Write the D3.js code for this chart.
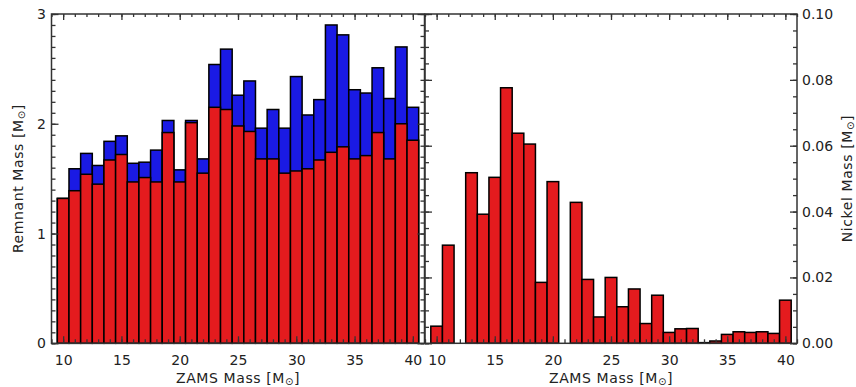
<!DOCTYPE html>
<html>
<head>
<meta charset="utf-8">
<script src="https://cdn.jsdelivr.net/npm/d3@7"></script>
<style>
  html, body { margin: 0; padding: 0; background: #fff; }
  svg { display: block; }
  text { font-family: "DejaVu Sans", sans-serif; fill: #222; }
</style>
</head>
<body>
<svg id="chart" width="856" height="387"></svg>
<script>
// ZAMS masses of the progenitor models (one bin per solar mass)
const zamsMass = [10, 11, 12, 13, 14, 15, 16, 17, 18, 19, 20, 21, 22, 23, 24, 25,
                  26, 27, 28, 29, 30, 31, 32, 33, 34, 35, 36, 37, 38, 39, 40];

// Final remnant mass including fallback [Msun] (blue)
const remnantFinal = [1.32, 1.59, 1.73, 1.62, 1.84, 1.89, 1.64, 1.65, 1.76, 2.03, 1.58,
                      2.03, 1.68, 2.54, 2.68, 2.26, 2.39, 1.96, 2.13, 1.96, 2.43, 2.08,
                      2.22, 2.90, 2.81, 2.31, 2.28, 2.51, 2.23, 2.70, 2.15];

// Remnant mass before fallback [Msun] (red)
const remnantInitial = [1.32, 1.39, 1.54, 1.45, 1.67, 1.72, 1.47, 1.51, 1.47, 1.92, 1.47,
                        2.01, 1.55, 2.15, 2.13, 1.98, 1.93, 1.68, 1.68, 1.55, 1.57, 1.59,
                        1.67, 1.74, 1.79, 1.68, 1.71, 1.92, 1.68, 2.00, 1.85];

// Ejected 56Ni mass [Msun]
const nickelMass = [0.0052, 0.0298, 0.0000, 0.0518, 0.0392, 0.0504, 0.0776, 0.0638, 0.0605,
                    0.0185, 0.0491, 0.0000, 0.0428, 0.0194, 0.0080, 0.0200, 0.0111, 0.0165,
                    0.0060, 0.0146, 0.0033, 0.0044, 0.0045, 0.0002, 0.0007, 0.0027, 0.0035,
                    0.0033, 0.0035, 0.0030, 0.0131];

const xTicks = [10, 15, 20, 25, 30, 35, 40];
const remnantTicks = [0, 1, 2, 3];
const nickelTicks = [0.00, 0.02, 0.04, 0.06, 0.08, 0.10];

const RED = "#e41b1e";
const BLUE = "#1a1ae4";
const AXIS = "#333";

const svg = d3.select("#chart");
const plotTop = 14, plotBottom = 343.3;

const xLeft = d3.scaleLinear().domain([9, 41]).range([51.5, 424.5]);
const xRight = d3.scaleLinear().domain([9, 41]).range([425, 797]);
const yRem = d3.scaleLinear().domain([0, 3]).range([plotBottom, plotTop]);
const yNi = d3.scaleLinear().domain([0, 0.10]).range([plotBottom, plotTop]);

const minorX = d3.range(9, 42, 1);
const minorRem = d3.range(0, 3.0001, 0.1);
const minorNi = d3.range(0, 0.10001, 0.005);

function bars(g, x, y, values, color) {
  g.selectAll(null)
    .data(zamsMass.map((m, i) => ({ m, v: values[i] })))
    .join("rect")
    .attr("x", d => x(d.m - 0.5))
    .attr("width", d => x(d.m + 0.5) - x(d.m - 0.5))
    .attr("y", d => y(d.v))
    .attr("height", d => y(0) - y(d.v))
    .attr("fill", color)
    .attr("stroke", "#000")
    .attr("stroke-width", 1.5);
}

function styleAxis(sel) {
  sel.select(".domain").remove();
  sel.selectAll(".tick line").attr("stroke", AXIS).attr("stroke-width", 1.3);
  sel.selectAll(".tick text").style("font-size", "14px").attr("fill", "#222");
}

function frame(x, y, majorY, minorY, yLabelSide, yFormat) {
  const g = svg.append("g");
  const [x0, x1] = x.range();
  const [y0, y1] = y.range();

  // bottom axis: labelled major ticks, inward minor ticks
  g.append("g").attr("transform", `translate(0,${y0})`)
    .call(d3.axisBottom(x).tickValues(minorX).tickSize(-4).tickSizeOuter(0).tickFormat(""))
    .call(styleAxis);
  g.append("g").attr("transform", `translate(0,${y0})`)
    .call(d3.axisBottom(x).tickValues(xTicks).tickSize(-7).tickSizeOuter(0).tickPadding(12).tickFormat(d3.format("d")))
    .call(styleAxis);

  // top axis
  g.append("g").attr("transform", `translate(0,${y1})`)
    .call(d3.axisTop(x).tickValues(minorX).tickSize(-3).tickSizeOuter(0).tickFormat(""))
    .call(styleAxis);
  g.append("g").attr("transform", `translate(0,${y1})`)
    .call(d3.axisTop(x).tickValues(xTicks).tickSize(-6).tickSizeOuter(0).tickFormat(""))
    .call(styleAxis);

  // left axis
  g.append("g").attr("transform", `translate(${x0},0)`)
    .call(d3.axisLeft(y).tickValues(minorY).tickSize(-4).tickSizeOuter(0).tickFormat(""))
    .call(styleAxis);
  g.append("g").attr("transform", `translate(${x0},0)`)
    .call(d3.axisLeft(y).tickValues(majorY).tickSize(-7).tickSizeOuter(0)
      .tickPadding(5.5).tickFormat(yLabelSide === "left" ? yFormat : ""))
    .call(styleAxis);

  // right axis
  g.append("g").attr("transform", `translate(${x1},0)`)
    .call(d3.axisRight(y).tickValues(minorY).tickSize(-4).tickSizeOuter(0).tickFormat(""))
    .call(styleAxis);
  g.append("g").attr("transform", `translate(${x1},0)`)
    .call(d3.axisRight(y).tickValues(majorY).tickSize(-7).tickSizeOuter(0)
      .tickPadding(5).tickFormat(yLabelSide === "right" ? yFormat : ""))
    .call(styleAxis);

  g.append("rect")
    .attr("x", x0).attr("y", y1)
    .attr("width", x1 - x0).attr("height", y0 - y1)
    .attr("fill", "none").attr("stroke", AXIS).attr("stroke-width", 1.5);
  return g;
}

function massLabel(sel, prefix) {
  sel.append("tspan").text(prefix + " [M");
  sel.append("tspan").text("⊙").attr("font-size", "10px").attr("dy", 2);
  sel.append("tspan").text("]").attr("dy", -2);
}

// Left panel: remnant masses
const leftPanel = svg.append("g");
bars(leftPanel, xLeft, yRem, remnantFinal, BLUE);
bars(leftPanel, xLeft, yRem, remnantInitial, RED);
frame(xLeft, yRem, remnantTicks, minorRem, "left", d3.format("d"));

// Right panel: nickel masses
const rightPanel = svg.append("g");
bars(rightPanel, xRight, yNi, nickelMass, RED);
frame(xRight, yNi, nickelTicks, minorNi, "right", d3.format(".2f"));

// axis titles
const midL = (xLeft.range()[0] + xLeft.range()[1]) / 2;
const midR = (xRight.range()[0] + xRight.range()[1]) / 2;
const midY = (plotTop + plotBottom) / 2;

svg.append("text").attr("x", midL).attr("y", 383).attr("text-anchor", "middle")
  .style("font-size", "14px").style("letter-spacing", "0.6px")
  .call(massLabel, "ZAMS Mass");
svg.append("text").attr("x", midR).attr("y", 383).attr("text-anchor", "middle")
  .style("font-size", "14px").style("letter-spacing", "0.6px")
  .call(massLabel, "ZAMS Mass");

svg.append("text")
  .attr("transform", `translate(23,${midY}) rotate(-90)`)
  .attr("text-anchor", "middle")
  .style("font-size", "14px").style("letter-spacing", "0.6px")
  .call(massLabel, "Remnant Mass");
svg.append("text")
  .attr("transform", `translate(852,${midY}) rotate(-90)`)
  .attr("text-anchor", "middle")
  .style("font-size", "14px").style("letter-spacing", "0.6px")
  .call(massLabel, "Nickel Mass");
</script>
</body>
</html>
